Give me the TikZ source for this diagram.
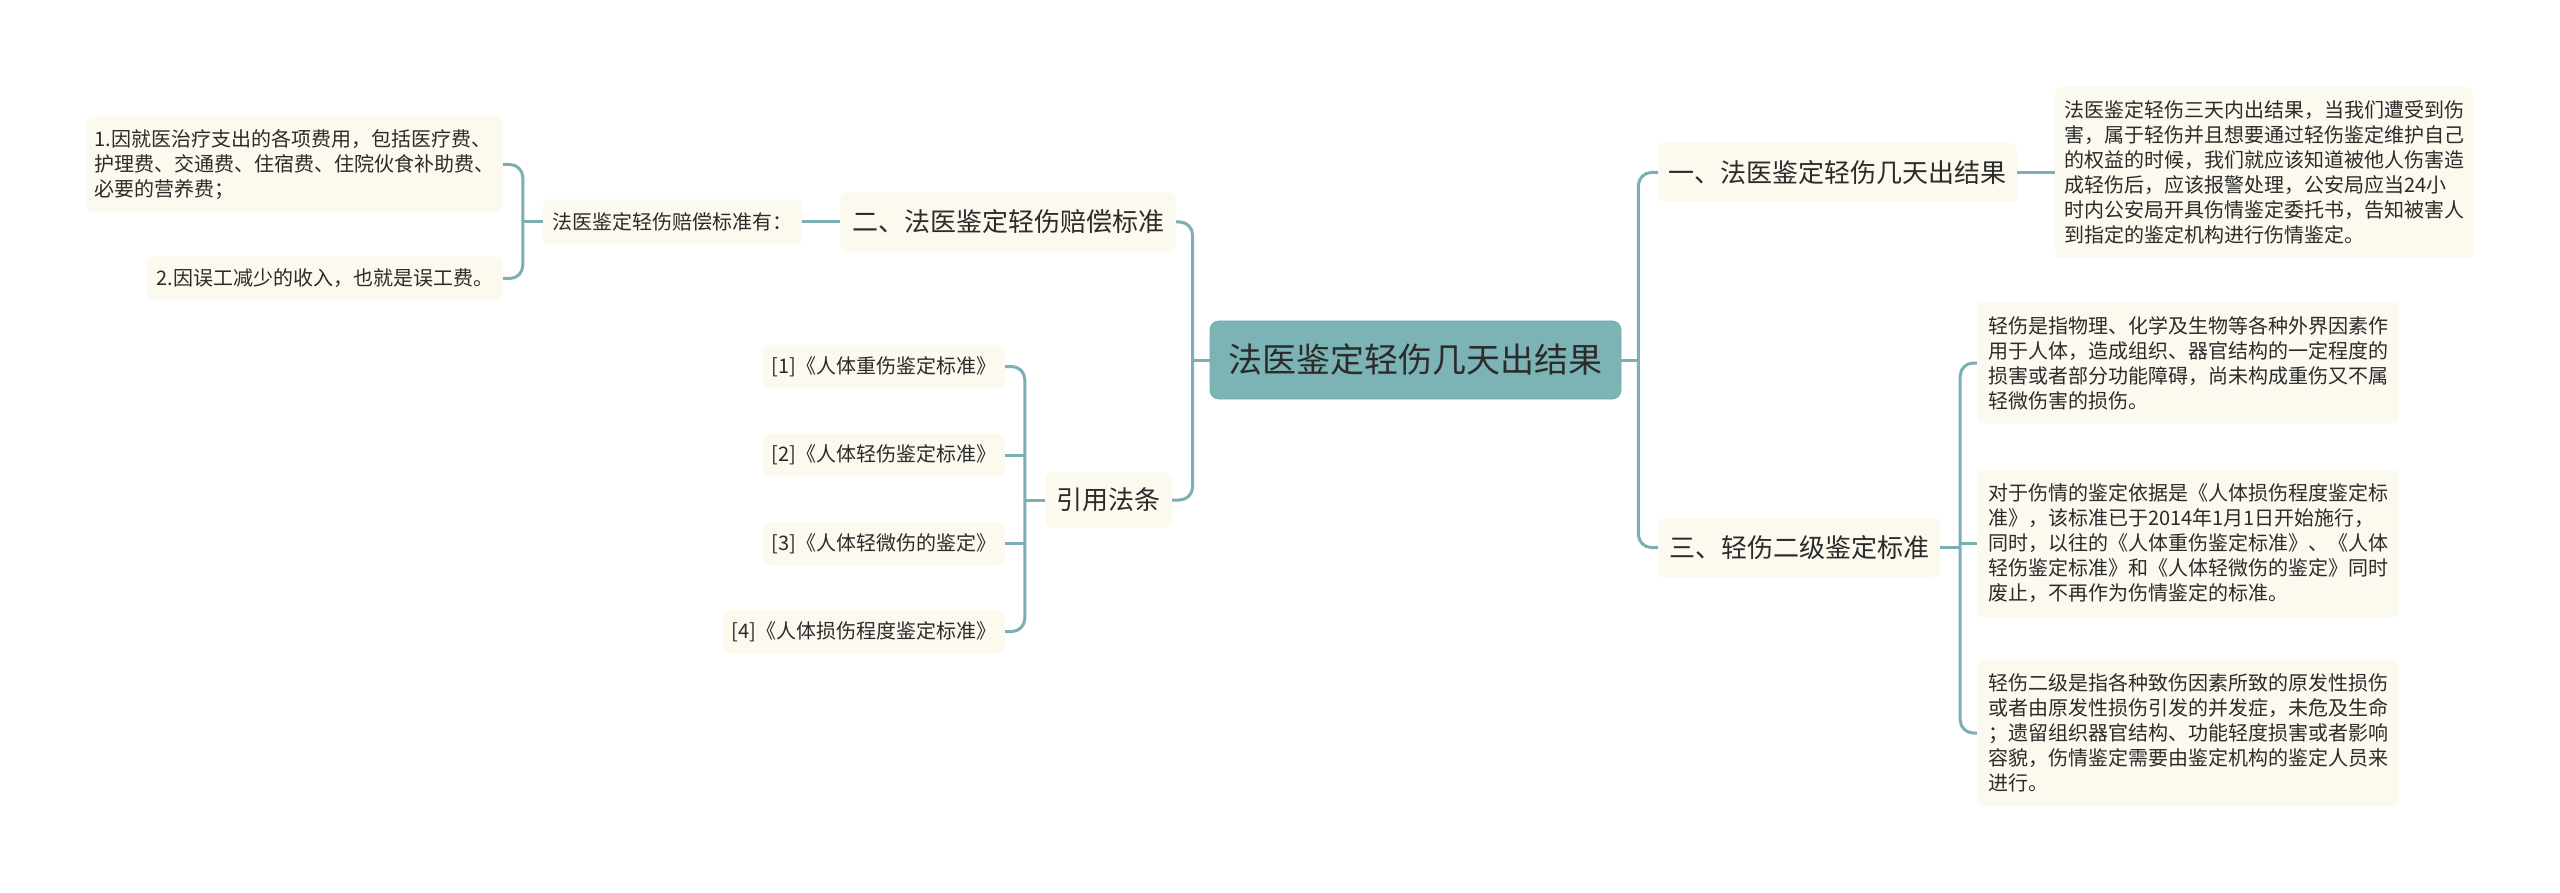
\documentclass[tikz,border=0pt]{standalone}
\usepackage{fontspec}
\setmainfont{Noto Sans CJK SC}
\usetikzlibrary{calc}
\definecolor{linec}{HTML}{7AAFB3}
\definecolor{rootc}{HTML}{7CB3B5}
\definecolor{rootb}{HTML}{72A9AC}
\definecolor{cream}{HTML}{FCF9EF}
\definecolor{txt}{HTML}{2B2B2B}
\begin{document}
\begin{tikzpicture}[x=1pt,y=-1pt,
  conn/.style={draw=linec, line width=3pt, rounded corners=13pt},
  box/.style={fill=cream, rounded corners=7pt, text=txt, inner sep=0pt},
  big/.style={box, font=\fontsize{26}{30}\selectfont},
  leaf/.style={box, font=\fontsize{20}{25}\selectfont, align=left},
  small/.style={box, font=\fontsize{20}{24}\selectfont},
]
\useasboundingbox (0,0) rectangle (2560,893);
\fill[white] (0,0) rectangle (2560,893);

% root
\node[fill=rootc, draw=rootb, line width=0.8pt, rounded corners=9pt, minimum width=411pt, minimum height=78pt,
  inner sep=0pt, text=txt, font=\fontsize{34}{40}\selectfont] (c) at (1415.5,360) {法医鉴定轻伤几天出结果};

% right side
\node[big, minimum width=359pt, minimum height=59pt] (n1) at (1837.5,172.5) {一、法医鉴定轻伤几天出结果};
\node[leaf, minimum width=418pt, minimum height=171pt] (l1) at (2264,172.5) {法医鉴定轻伤三天内出结果，当我们遭受到伤\\害，属于轻伤并且想要通过轻伤鉴定维护自己\\的权益的时候，我们就应该知道被他人伤害造\\成轻伤后，应该报警处理，公安局应当24小\\时内公安局开具伤情鉴定委托书，告知被害人\\到指定的鉴定机构进行伤情鉴定。};

\node[big, minimum width=282pt, minimum height=59pt] (n3) at (1799,547.5) {三、轻伤二级鉴定标准};
\node[leaf, minimum width=422pt, minimum height=122pt] (l31) at (2188,363) {轻伤是指物理、化学及生物等各种外界因素作\\用于人体，造成组织、器官结构的一定程度的\\损害或者部分功能障碍，尚未构成重伤又不属\\轻微伤害的损伤。};
\node[leaf, minimum width=422pt, minimum height=147pt] (l32) at (2188,543.5) {对于伤情的鉴定依据是《人体损伤程度鉴定标\\准》，该标准已于2014年1月1日开始施行，\\同时，以往的《人体重伤鉴定标准》、《人体\\轻伤鉴定标准》和《人体轻微伤的鉴定》同时\\废止，不再作为伤情鉴定的标准。};
\node[leaf, minimum width=422pt, minimum height=146pt] (l33) at (2188,733) {轻伤二级是指各种致伤因素所致的原发性损伤\\或者由原发性损伤引发的并发症，未危及生命\\；遗留组织器官结构、功能轻度损害或者影响\\容貌，伤情鉴定需要由鉴定机构的鉴定人员来\\进行。};

% left side
\node[big, minimum width=336pt, minimum height=59pt] (n2) at (1008,222) {二、法医鉴定轻伤赔偿标准};
\node[small, minimum width=259pt, minimum height=45pt] (n2a) at (672.5,222) {法医鉴定轻伤赔偿标准有：};
\node[leaf, anchor=east, minimum width=416pt, minimum height=96pt] (l21) at (503,164.5) {1.因就医治疗支出的各项费用，包括医疗费、\\护理费、交通费、住宿费、住院伙食补助费、\\必要的营养费；};
\node[small, anchor=east, minimum width=356pt, minimum height=44pt] (l22) at (503,278.5) {2.因误工减少的收入，也就是误工费。};

\node[big, minimum width=127pt, minimum height=56pt] (ref) at (1108.5,500) {引用法条};
\node[small, anchor=east, minimum width=242pt, minimum height=43pt] (r1) at (1005,366.5) {[1]《人体重伤鉴定标准》};
\node[small, anchor=east, minimum width=242pt, minimum height=43pt] (r2) at (1005,455) {[2]《人体轻伤鉴定标准》};
\node[small, anchor=east, minimum width=242pt, minimum height=43pt] (r3) at (1005,543.5) {[3]《人体轻微伤的鉴定》};
\node[small, anchor=east, minimum width=282pt, minimum height=43pt] (r4) at (1005,631.5) {[4]《人体损伤程度鉴定标准》};

% connectors right
\coordinate (rj) at ($(c.east)+(17,0)$);
\draw[conn] (c.east) -- (rj);
\draw[conn] (rj) |- (n1.west);
\draw[conn] (rj) |- (n3.west);
\draw[conn] (n1.east) -- (l1.west);
\coordinate (tj) at ($(n3.east)+(20,0)$);
\draw[conn] (n3.east) -- (tj);
\draw[conn] (tj) |- (l31.west);
\draw[conn] (tj) |- (l33.west);
\draw[conn] (tj |- l32.west) -- (l32.west);

% connectors left
\coordinate (lj) at ($(c.west)+(-17,0)$);
\draw[conn] (c.west) -- (lj);
\draw[conn] (lj) |- (n2.east);
\draw[conn] (lj) |- (ref.east);
\draw[conn] (n2.west) -- (n2a.east);
\coordinate (aj) at ($(n2a.west)+(-20,0)$);
\draw[conn] (n2a.west) -- (aj);
\draw[conn] (aj) |- (l21.east);
\draw[conn] (aj) |- (l22.east);
\coordinate (fj) at ($(ref.west)+(-20,0)$);
\draw[conn] (ref.west) -- (fj);
\draw[conn] (fj) |- (r1.east);
\draw[conn] (fj) |- (r4.east);
\draw[conn] (fj |- r2.east) -- (r2.east);
\draw[conn] (fj |- r3.east) -- (r3.east);
\end{tikzpicture}
\end{document}
